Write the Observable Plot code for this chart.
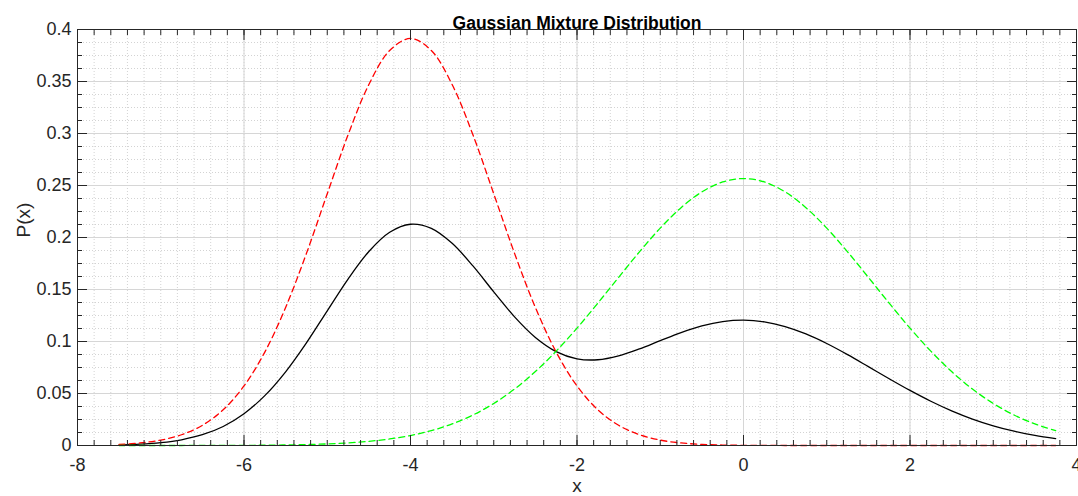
<!DOCTYPE html>
<html>
<head>
<meta charset="utf-8">
<script src="https://cdn.jsdelivr.net/npm/d3@7"></script>
<script src="https://cdn.jsdelivr.net/npm/@observablehq/plot@0.6"></script>
<style>
  html, body { margin: 0; padding: 0; background: #ffffff; }
  #chart { width: 1078px; height: 496px; }
</style>
</head>
<body>
<div id="chart"></div>
<script>
// ---- data ----
const xs = [-7.5, -7.25, -7, -6.75, -6.5, -6.25, -6, -5.75, -5.5, -5.25, -5, -4.75, -4.5, -4.25, -4, -3.75,
  -3.5, -3.25, -3, -2.75, -2.5, -2.25, -2, -1.75, -1.5, -1.25, -1, -0.75, -0.5, -0.25, 0, 0.25,
  0.5, 0.75, 1, 1.25, 1.5, 1.75, 2, 2.25, 2.5, 2.75, 3, 3.25, 3.5, 3.75];

const redComponent = [0.00109, 0.00244, 0.00518, 0.01033, 0.01942, 0.03435, 0.05725, 0.08983, 0.13274, 0.18472,
  0.24205, 0.29870, 0.34709, 0.37982, 0.3914, 0.37982, 0.34709, 0.29870, 0.24205, 0.18472,
  0.13274, 0.08983, 0.05725, 0.03435, 0.01942, 0.01033, 0.00518, 0.00244, 0.00109, 0.00045,
  0.00018, 0.00007, 0.00002, 0.00001, 0, 0, 0, 0, 0, 0, 0, 0, 0, 0, 0, 0];

const greenComponent = [0.0000025, 0.0000053, 0.000011, 0.000022, 0.000044, 0.000084, 0.000158, 0.000288, 0.000514, 0.000892,
  0.00151, 0.00249, 0.00401, 0.00628, 0.00959, 0.01429, 0.02073, 0.02931, 0.04041, 0.05429,
  0.07109, 0.09073, 0.11287, 0.13684, 0.16169, 0.18622, 0.20903, 0.22869, 0.24385, 0.25342,
  0.2567, 0.25342, 0.24385, 0.22869, 0.20903, 0.18622, 0.16169, 0.13684, 0.11287, 0.09073,
  0.07109, 0.05429, 0.04041, 0.02931, 0.02073, 0.01429];

const mixture = [0.00058, 0.00130, 0.00276, 0.00551, 0.01035, 0.01831, 0.03053, 0.04793, 0.07086, 0.09869,
  0.12948, 0.16008, 0.18653, 0.20501, 0.21272, 0.20876, 0.19437, 0.17266, 0.14772, 0.12373,
  0.10396, 0.09034, 0.08340, 0.08245, 0.08616, 0.09284, 0.10080, 0.10856, 0.11495, 0.11910,
  0.12049, 0.11890, 0.11438, 0.10726, 0.09804, 0.08734, 0.07583, 0.06418, 0.05294, 0.04255,
  0.03334, 0.02546, 0.01895, 0.01375, 0.00972, 0.00670];

const xTicks = [-8, -6, -4, -2, 0, 2, 4];
const xTickLabels = ["-8", "-6", "-4", "-2", "0", "2", "4"];
const yTicks = [0, 0.05, 0.1, 0.15, 0.2, 0.25, 0.3, 0.35, 0.4];
const yTickLabels = ["0", "0.05", "0.1", "0.15", "0.2", "0.25", "0.3", "0.35", "0.4"];

const titleText = "Gaussian Mixture Distribution";
const xLabel = "x";
const yLabel = "P(x)";

// minor tick positions (10 per major x interval, 4 per major y interval)
const xMinor = d3.range(0, 61).map(i => +(-8 + i * 0.2).toFixed(4));
const yMinor = d3.range(0, 33).map(i => +(i * 0.0125).toFixed(5));

// ---- table ----
const rows = xs.map((x, i) => ({x, mix: mixture[i], red: redComponent[i], green: greenComponent[i]}));

const font = "'Liberation Sans', Arial, Helvetica, sans-serif";
const ink = "#262626";

const chart = Plot.plot({
  width: 1078,
  height: 496,
  marginLeft: 77,
  marginRight: 2,
  marginTop: 29,
  marginBottom: 51,
  style: {fontFamily: font, fontSize: "18px", color: ink, background: "#ffffff", overflow: "visible"},
  x: {domain: [-8, 4]},
  y: {domain: [0, 0.4]},
  marks: [
    // minor grid (dotted)
    Plot.gridX(xMinor, {stroke: "#a8a8a8", strokeOpacity: 0.5, strokeDasharray: "1,2"}),
    Plot.gridY(yMinor, {stroke: "#a8a8a8", strokeOpacity: 0.5, strokeDasharray: "1,2"}),
    // major grid (solid)
    Plot.gridX(xTicks, {stroke: "#d6d6d6", strokeOpacity: 1}),
    Plot.gridY(yTicks, {stroke: "#d6d6d6", strokeOpacity: 1}),
    // curves
    Plot.line(rows, {x: "x", y: "mix", stroke: "#000000", strokeWidth: 1.3, curve: "catmull-rom"}),
    Plot.line(rows, {x: "x", y: "red", stroke: "#ff0000", strokeWidth: 1.3, strokeDasharray: "6,4", curve: "catmull-rom"}),
    Plot.line(rows, {x: "x", y: "green", stroke: "#00ff00", strokeWidth: 1.3, strokeDasharray: "6,4", curve: "catmull-rom"}),
    // box
    Plot.frame({stroke: ink, strokeWidth: 1}),
    // inward minor ticks
    Plot.axisX(xMinor, {anchor: "bottom", tickSize: -5, tickFormat: () => "", label: null, stroke: ink}),
    Plot.axisX(xMinor, {anchor: "top", tickSize: -5, tickFormat: () => "", label: null, stroke: ink}),
    Plot.axisY(yMinor, {anchor: "left", tickSize: -5, tickFormat: () => "", label: null, stroke: ink}),
    Plot.axisY(yMinor, {anchor: "right", tickSize: -5, tickFormat: () => "", label: null, stroke: ink}),
    // inward major ticks
    Plot.axisX(xTicks, {anchor: "bottom", tickSize: -10, tickFormat: () => "", label: null, stroke: ink}),
    Plot.axisX(xTicks, {anchor: "top", tickSize: -10, tickFormat: () => "", label: null, stroke: ink}),
    Plot.axisY(yTicks, {anchor: "left", tickSize: -10, tickFormat: () => "", label: null, stroke: ink}),
    Plot.axisY(yTicks, {anchor: "right", tickSize: -10, tickFormat: () => "", label: null, stroke: ink}),
    // tick labels
    Plot.axisX(xTicks, {anchor: "bottom", tickSize: 0, tickPadding: 13, label: null, fill: ink,
      tickFormat: d => xTickLabels[xTicks.indexOf(d)]}),
    Plot.axisY(yTicks, {anchor: "left", tickSize: 0, tickPadding: 6, label: null, fill: ink,
      tickFormat: d => yTickLabels[yTicks.indexOf(d)]}),
    // title and axis labels
    Plot.text([titleText], {frameAnchor: "top", dy: -13, fontWeight: "bold", fontSize: 17.5, fill: "#000000"}),
    Plot.text([xLabel], {frameAnchor: "bottom", dy: 46, fontSize: 19, fill: ink}),
    Plot.text([yLabel], {frameAnchor: "left", dx: -54, rotate: -90, fontSize: 19, fill: ink})
  ]
});

document.getElementById("chart").appendChild(chart);
</script>
</body>
</html>
